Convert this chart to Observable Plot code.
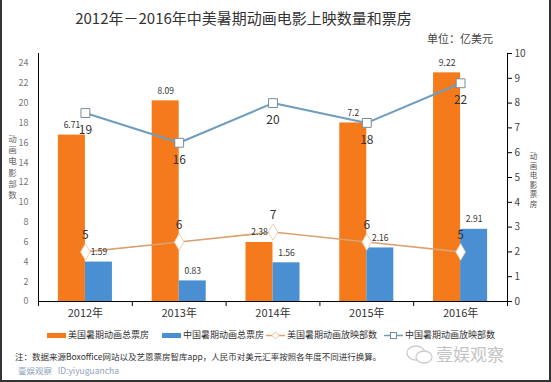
<!DOCTYPE html>
<html><head><meta charset="utf-8">
<script src="https://cdn.jsdelivr.net/npm/d3@7"></script>
<script src="https://cdn.jsdelivr.net/npm/@observablehq/plot@0.6"></script>
<style>
body{margin:0;background:#fff;}
#wrap{position:relative;width:551px;height:382px;overflow:hidden;font-family:"Noto Sans CJK SC","Noto Sans",sans-serif;background:#fff;}
#chart{position:absolute;left:0;top:0;}
.abs{position:absolute;white-space:nowrap;}
#frame{position:absolute;left:0;top:0;width:551px;height:382px;box-sizing:border-box;border-left:2px solid #333;border-right:2px solid #333;border-bottom:2px solid #333;pointer-events:none;}
.stack span{display:block;text-align:center;}
.lg{position:absolute;top:328px;font-size:9px;color:#333;line-height:14px;}
</style></head>
<body>
<div id="wrap">
  <div id="chart"></div>
  <div class="abs" style="left:0;width:487px;text-align:center;top:7px;font-size:15px;color:#333;">2012年－2016年中美暑期动画电影上映数量和票房</div>
  <div class="abs" style="left:427px;top:30px;font-size:11px;color:#444;">单位：亿美元</div>
  <div id="ltitle" class="abs stack" style="left:7px;top:133px;width:11px;font-size:8.5px;line-height:11.2px;color:#666;"></div>
  <div id="rtitle" class="abs stack" style="left:529px;top:151px;width:9px;font-size:7.5px;line-height:9.5px;color:#555;"></div>
  <div id="legend"></div>
  <div class="abs" style="left:15px;top:350px;font-size:8.5px;color:#333;">注：数据来源Boxoffice网站以及艺恩票房智库app，人民币对美元汇率按照各年度不同进行换算。</div>
  <div class="abs" style="left:18px;top:364px;font-size:8.5px;color:#8ea3bb;">壹娱观察&nbsp;&nbsp;&nbsp;ID:yiyuguancha</div>
  <svg class="abs" style="left:405px;top:343px;" width="30" height="24"><ellipse cx="11" cy="10" rx="9" ry="7" fill="none" stroke="#ccc" stroke-width="1.3"/><ellipse cx="19" cy="14" rx="8" ry="6" fill="#fff" stroke="#ccc" stroke-width="1.3"/></svg>
  <div class="abs" style="left:436px;top:341px;font-size:17px;color:#c4c4c4;">壹娱观察</div>
  <div id="frame"></div>
</div>
<script>
const years = ["2012年","2013年","2014年","2015年","2016年"];
const usBox = [6.71, 8.09, 2.38, 7.2, 9.22];
const cnBox = [1.59, 0.83, 1.56, 2.16, 2.91];
const usCount = [5, 6, 7, 6, 5];
const cnCount = [19, 16, 20, 18, 22];
const leftTicks = [0, 2, 4, 6, 8, 10, 12, 14, 16, 18, 20, 22, 24];
const rightTicks = [0, 1, 2, 3, 4, 5, 6, 7, 8, 9, 10];
const seriesNames = ["美国暑期动画总票房", "中国暑期动画总票房", "美国暑期动画放映部数", "中国暑期动画放映部数"];
const leftTitle = "动画电影部数";
const rightTitle = "动画电影票房";

const ORANGE = "#F47A1C", BLUE = "#4A8FD1", USLINE = "#D9A272", CNLINE = "#6E9DBD";
const k = 2.5;     // counts axis (0-25) vs box office axis (0-10)
const w = 0.288;   // bar width as fraction of a category band

const rows = years.map((y, i) => ({i, year: y, us: usBox[i], cn: cnBox[i], usN: usCount[i], cnN: cnCount[i]}));
const cx = d => d.i + 0.5;

const chart = Plot.plot({
  width: 551, height: 330,
  marginLeft: 38, marginRight: 44, marginTop: 53, marginBottom: 29,
  style: {fontFamily: '"Noto Sans CJK SC","Noto Sans",sans-serif', background: "transparent"},
  x: {domain: [0, 5]},
  y: {domain: [0, 25]},
  marks: [
    Plot.rectY(rows, {x1: d => d.i + 0.5 - w, x2: d => d.i + 0.5, y: d => d.us * k, fill: ORANGE}),
    Plot.rectY(rows, {x1: d => d.i + 0.5, x2: d => d.i + 0.5 + w, y: d => d.cn * k, fill: BLUE}),
    Plot.ruleX([0, 5], {stroke: "#000", strokeWidth: 1}),
    Plot.ruleY([0], {stroke: "#000", strokeWidth: 1}),
    Plot.axisY({anchor: "left", ticks: leftTicks, tickSize: 0, tickPadding: 10, label: null, fontSize: 9, fill: "#777"}),
    Plot.axisY({anchor: "right", ticks: rightTicks.map(v => v * k), tickFormat: v => Math.round(v / k), tickSize: 4, tickPadding: 3, label: null, fontSize: 10, fill: "#444", stroke: "#000"}),
    Plot.axisX({ticks: [0.5, 1.5, 2.5, 3.5, 4.5], tickFormat: v => years[Math.floor(v)], tickSize: 0, tickPadding: 8, label: null, fontSize: 11, fill: "#333"}),
    Plot.axisX({ticks: [0, 1, 2, 3, 4, 5], tickFormat: () => "", tickSize: 5, label: null, stroke: "#000"}),
    Plot.line(rows, {x: cx, y: "usN", stroke: USLINE, strokeWidth: 1.6}),
    Plot.line(rows, {x: cx, y: "cnN", stroke: CNLINE, strokeWidth: 2}),
    Plot.dot(rows, {x: cx, y: "usN", symbol: "diamond", r: 5, fill: "#fff", stroke: "#ecd2b6", strokeWidth: 1}),
    Plot.dot(rows, {x: cx, y: "cnN", symbol: "square", r: 5, fill: "#fff", stroke: "#7b8b97", strokeWidth: 1}),
    Plot.text(rows, {x: cx, y: "usN", text: d => String(d.usN), dy: -17, fontSize: 12, fill: "#333"}),
    Plot.text(rows, {x: cx, y: "cnN", text: d => String(d.cnN), dy: 17, fontSize: 12, fill: "#333"}),
    Plot.text(rows, {x: d => d.i + 0.5 - w / 2, y: d => d.us * k, text: d => String(d.us), dy: -10, fontSize: 8.5, fill: "#333"}),
    Plot.text(rows, {x: d => d.i + 0.5 + w / 2, y: d => d.cn * k, text: d => String(d.cn), dy: -10, fontSize: 8.5, fill: "#333"})
  ]
});
document.getElementById("chart").appendChild(chart);

// stacked vertical axis titles
document.getElementById("ltitle").innerHTML = [...leftTitle].map(c => `<span>${c}</span>`).join("");
document.getElementById("rtitle").innerHTML = [...rightTitle].map(c => `<span>${c}</span>`).join("");

// legend
const lg = document.getElementById("legend");
const items = [
  {left: 47, kind: "bar", color: ORANGE, name: seriesNames[0]},
  {left: 162, kind: "bar", color: BLUE, name: seriesNames[1]},
  {left: 266, kind: "diamond", color: USLINE, name: seriesNames[2]},
  {left: 384, kind: "square", color: CNLINE, name: seriesNames[3]}
];
items.forEach(it => {
  const el = document.createElement("div");
  el.className = "lg";
  el.style.left = it.left + "px";
  el.style.display = "flex";
  el.style.alignItems = "center";
  let sw;
  if (it.kind === "bar") {
    sw = `<svg width="21" height="14"><rect x="0" y="5" width="19" height="5" fill="${it.color}"/></svg>`;
  } else if (it.kind === "diamond") {
    sw = `<svg width="21" height="14"><line x1="0" x2="19" y1="7.5" y2="7.5" stroke="${it.color}" stroke-width="1.5"/><path d="M9.5 4 L13 7.5 L9.5 11 L6 7.5 Z" fill="#fff" stroke="#e3c3a0"/></svg>`;
  } else {
    sw = `<svg width="21" height="14"><line x1="0" x2="19" y1="7.5" y2="7.5" stroke="${it.color}" stroke-width="1.5"/><rect x="6.5" y="4.5" width="6" height="6" fill="#fff" stroke="#7b8b97"/></svg>`;
  }
  el.innerHTML = sw + `<span>${it.name}</span>`;
  lg.appendChild(el);
});
</script>
</body></html>
